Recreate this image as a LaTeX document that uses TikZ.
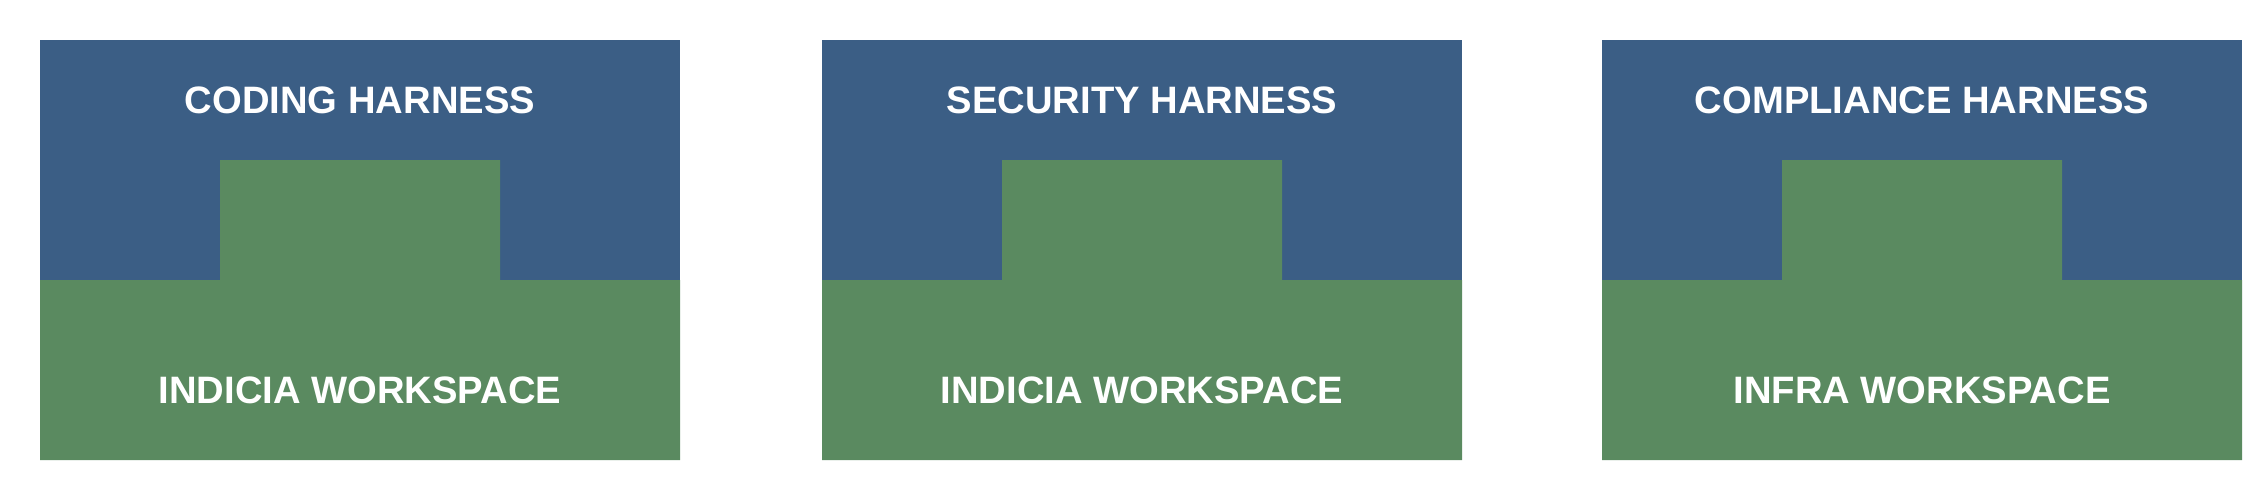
\documentclass[tikz,border=0pt]{standalone}
\usepackage{fontspec}
\setmainfont{Liberation Sans}
\definecolor{harnessblue}{RGB}{59,94,133}
\definecolor{workgreen}{RGB}{90,138,96}
\tikzset{
  harness/.style={fill=harnessblue,draw=none},
  workspace/.style={fill=workgreen,draw=none},
  lbl/.style={text=white,font=\fontsize{38.2}{40}\selectfont\bfseries,anchor=base,inner sep=0pt}
}
\begin{document}
\begin{tikzpicture}[x=1pt,y=-1pt]
\useasboundingbox[fill=white] (0,0) rectangle (2264,482);
\foreach \x/\top/\bot/\n in {40/CODING HARNESS/INDICIA WORKSPACE/a,822/SECURITY HARNESS/INDICIA WORKSPACE/b,1602/COMPLIANCE HARNESS/INFRA WORKSPACE/c}{
  \fill[harness] (\x,40) rectangle ++(640,240);
  \fill[workspace] (\x,280) -- ++(180,0) -- ++(0,-120) -- ++(280,0) -- ++(0,120) -- ++(180,0) -- ++(0,180) -- ++(-640,0) -- cycle;
  \node[lbl] (h\n) at (\x+320,113) {\top};
  \node[lbl] (w\n) at (\x+320,403) {\bot};
}
\end{tikzpicture}
\end{document}
